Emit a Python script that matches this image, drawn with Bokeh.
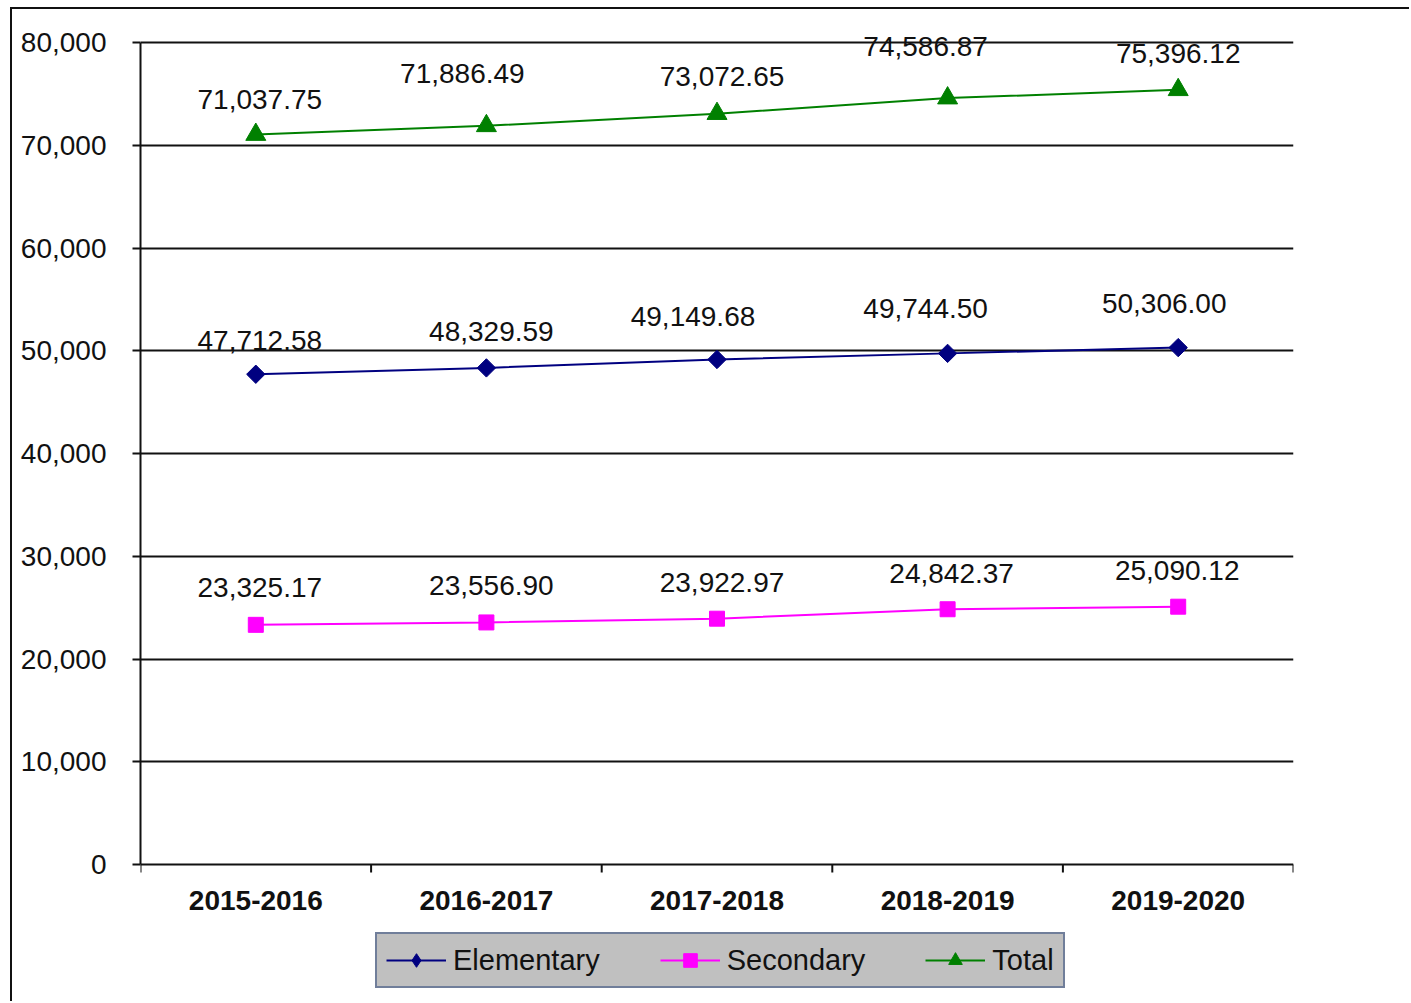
import math
from bokeh.plotting import figure
from bokeh.models import (ColumnDataSource, FixedTicker, NumeralTickFormatter,
                          Legend, LegendItem, Range1d, Span)
from bokeh.core.properties import value
from bokeh.embed import file_html
from bokeh.resources import INLINE

# ---- data ----
years = ["2015-2016", "2016-2017", "2017-2018", "2018-2019", "2019-2020"]
elementary = [47712.58, 48329.59, 49149.68, 49744.50, 50306.00]
secondary = [23325.17, 23556.90, 23922.97, 24842.37, 25090.12]
total = [71037.75, 71886.49, 73072.65, 74586.87, 75396.12]
y_ticks = [0, 10000, 20000, 30000, 40000, 50000, 60000, 70000, 80000]

# label nudges (pixels, screen: negative = up) mimicking the original placement
tot_dx = [4, -24, 5, -22, 0]
tot_dy = [-35, -52, -37, -52, -36]
ele_dx = [4, 5, -24, -22, -14]
ele_dy = [-34, -36, -43, -45, -44]
sec_dx = [4, 5, 5, 4, -1]
sec_dy = [-37, -37, -36, -36, -36]

FONT = "Liberation Sans"
FS = "28px"

# ---- layout (pixels) ----
CANVAS_W, CANVAS_H = 1399, 994      # canvas starts at (12, 9) on the page
FRAME_TOP, FRAME_BOTTOM = 3, 0      # frame spans page y 12 .. 1003
AXIS_TOP_PX, AXIS_BOTTOM_PX = 42, 864   # page y of 80,000 and 0
y_max = y_ticks[-1]
px_per_unit = (AXIS_BOTTOM_PX - AXIS_TOP_PX) / y_max
y_hi = y_max + (AXIS_TOP_PX - 12) / px_per_unit
y_lo = -(1003 - AXIS_BOTTOM_PX) / px_per_unit

xs = list(range(len(years)))
bounds_x = [i - 0.5 for i in range(len(years) + 1)]

p = figure(width=CANVAS_W, height=CANVAS_H, output_backend="svg", toolbar_location=None,
           x_range=Range1d(-0.5, len(years) - 0.5), y_range=Range1d(y_lo, y_hi),
           x_axis_location=None,
           min_border_left=128, min_border_right=118, min_border_top=FRAME_TOP,
           min_border_bottom=FRAME_BOTTOM)
p.styles = {"border-left": "2px solid #111", "border-top": "2px solid #111"}
p.margin = (7, 0, 0, 10)
p.outline_line_color = None
p.background_fill_color = "white"
p.border_fill_color = "white"

# y axis
p.yaxis.ticker = FixedTicker(ticks=y_ticks)
p.yaxis.bounds = (0, y_max)
p.yaxis.formatter = NumeralTickFormatter(format="0,0")
p.yaxis.major_tick_out = 8
p.yaxis.major_tick_in = 0
p.yaxis.minor_tick_line_color = None
p.yaxis.major_label_standoff = 26
p.yaxis.axis_line_color = "#111"
p.yaxis.axis_line_width = 2
p.yaxis.major_tick_line_color = "#111"
p.yaxis.major_tick_line_width = 2
p.yaxis.major_label_text_font = FONT
p.yaxis.major_label_text_font_size = FS
p.yaxis.major_label_text_color = "#111"
p.xgrid.grid_line_color = None
p.ygrid.grid_line_color = "#111"
p.ygrid.grid_line_width = 2
p.ygrid.ticker = FixedTicker(ticks=y_ticks[1:])

# category (x) axis drawn at y = 0 inside the frame
p.add_layout(Span(location=0, dimension="width", line_color="#111", line_width=2))
tick_len = 8 / px_per_unit
p.segment(x0=bounds_x, y0=[0] * len(bounds_x), x1=bounds_x,
          y1=[-tick_len] * len(bounds_x), line_color="#111", line_width=2)
p.text(x=xs, y=[0] * len(xs), text=years, y_offset=36,
       text_align="center", text_baseline="middle",
       text_font=value(FONT), text_font_size="28px", text_font_style="bold",
       text_color="#111")

series = [
    ("Elementary", elementary, "#000080", "square", 13, math.pi / 4, "diamond", ele_dx, ele_dy),
    ("Secondary", secondary, "#FF00FF", "square", 15, 0, "square", sec_dx, sec_dy),
    ("Total", total, "#008000", "triangle", 20, 0, "triangle", tot_dx, tot_dy),
]
nan = float("nan")
items = []
for name, vals, col, marker, size, ang, leg_marker, dx, dy in series:
    src = ColumnDataSource(dict(x=xs, y=vals,
                                lab=[f"{v:,.2f}" for v in vals],
                                dx=dx, dy=dy))
    ln = p.line("x", "y", source=src, line_color=col, line_width=2)
    p.scatter("x", "y", source=src, marker=marker, size=size, angle=ang,
              fill_color=col, line_color=col)
    # legend-only marker (a single undrawn NaN point)
    lm = p.scatter(x=[nan], y=[nan], marker=leg_marker, size=size,
                   fill_color=col, line_color=col)
    p.text("x", "y", text="lab", source=src, x_offset="dx", y_offset="dy",
           text_align="center", text_baseline="middle",
           text_font=value(FONT), text_font_size=FS, text_color="#111")
    items.append(LegendItem(label=name, renderers=[ln, lm]))

legend = Legend(items=items, orientation="horizontal", location=(235, 15),
                background_fill_color="#C0C0C0", background_fill_alpha=1,
                border_line_color="#1F3B73", border_line_width=2,
                label_text_font=FONT, label_text_font_size="29px",
                label_text_color="#111", glyph_width=60, glyph_height=34,
                spacing=60, padding=9, margin=0, label_standoff=7)
p.add_layout(legend, "center")

open("out.html", "w").write(file_html(p, INLINE))
